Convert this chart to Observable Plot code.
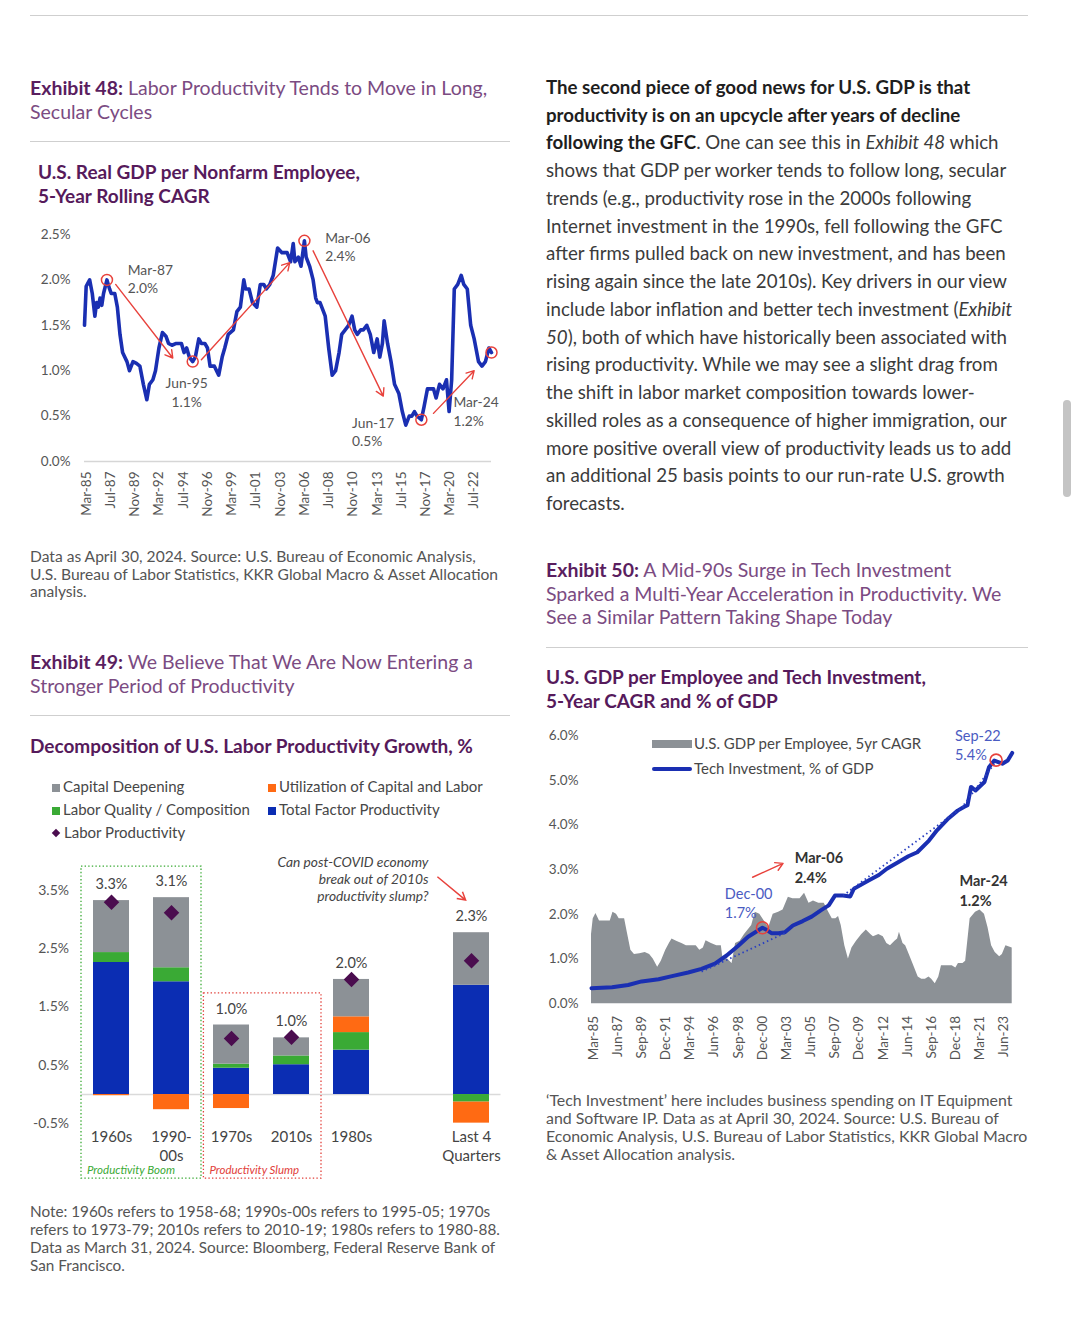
<!DOCTYPE html>
<html><head><meta charset="utf-8">
<script src="https://cdn.jsdelivr.net/npm/d3@7"></script>
<script src="https://cdn.jsdelivr.net/npm/@observablehq/plot@0.6"></script>
<style>
html,body{margin:0;padding:0;background:#fff;}
body{width:1080px;height:1336px;position:relative;overflow:hidden;font-family:Lato,'Open Sans',sans-serif;}
.abs{position:absolute;white-space:nowrap;}
.rule{position:absolute;height:0;border-top:1.5px solid #cfcfcf;}
.extitle{font-size:19.5px;line-height:24px;color:#7b4b82;}
.extitle b{color:#5a1e5f;font-weight:700;}
.ctitle{font-size:19px;line-height:24px;color:#561a5b;font-weight:700;}
.note{font-size:15.5px;line-height:17.5px;color:#555;}
.bodytext{font-size:18.7px;line-height:27.73px;color:#3b3b3b;}
.bodytext b{color:#1e1e1e;font-weight:700;}
.leg{position:absolute;font-size:15px;color:#474747;line-height:20px;white-space:nowrap;}
.sw{display:inline-block;width:8px;height:8px;margin-right:3px;vertical-align:0px;}
.chart{position:absolute;}
.scroll{position:absolute;left:1063px;top:400px;width:8px;height:97px;border-radius:4px;background:#c4c4c4;}
</style></head><body>

<div class="rule" style="left:30px;top:15px;width:998px"></div>

<div class="abs extitle" style="left:30px;top:76px"><b>Exhibit 48:</b> Labor Productivity Tends to Move in Long,<br>Secular Cycles</div>
<div class="rule" style="left:30px;top:141px;width:480px"></div>
<div class="abs ctitle" style="left:38px;top:160px">U.S. Real GDP per Nonfarm Employee,<br>5-Year Rolling CAGR</div>
<div id="c1" class="chart" style="left:30px;top:220px"></div>
<div class="abs note" style="left:30px;top:548px;font-size:15.6px">Data as April 30, 2024. Source: U.S. Bureau of Economic Analysis,<br>U.S. Bureau of Labor Statistics, KKR Global Macro &amp; Asset Allocation<br>analysis.</div>

<div class="abs extitle" style="left:30px;top:650px"><b>Exhibit 49:</b> We Believe That We Are Now Entering a<br>Stronger Period of Productivity</div>
<div class="rule" style="left:30px;top:715px;width:480px"></div>
<div class="abs ctitle" style="left:30px;top:734px">Decomposition of U.S. Labor Productivity Growth, %</div>
<div id="leg2"></div>
<div id="c2" class="chart" style="left:30px;top:845px"></div>
<div class="abs note" style="left:30px;top:1202px;line-height:18px;font-size:15.3px">Note: 1960s refers to 1958-68; 1990s-00s refers to 1995-05; 1970s<br>refers to 1973-79; 2010s refers to 2010-19; 1980s refers to 1980-88.<br>Data as March 31, 2024. Source: Bloomberg, Federal Reserve Bank of<br>San Francisco.</div>

<div class="abs bodytext" style="left:546px;top:74px"><b>The second piece of good news for U.S. GDP is that<br>productivity is on an upcycle after years of decline<br>following the GFC</b>. One can see this in <i>Exhibit 48</i> which<br>shows that GDP per worker tends to follow long, secular<br>trends (e.g., productivity rose in the 2000s following<br>Internet investment in the 1990s, fell following the GFC<br>after firms pulled back on new investment, and has been<br>rising again since the late 2010s). Key drivers in our view<br>include labor inflation and better tech investment (<i>Exhibit<br>50</i>), both of which have historically been associated with<br>rising productivity. While we may see a slight drag from<br>the shift in labor market composition towards lower-<br>skilled roles as a consequence of higher immigration, our<br>more positive overall view of productivity leads us to add<br>an additional 25 basis points to our run-rate U.S. growth<br>forecasts.</div>

<div class="abs extitle" style="left:546px;top:558px;line-height:23.5px"><b>Exhibit 50:</b> A Mid-90s Surge in Tech Investment<br>Sparked a Multi-Year Acceleration in Productivity. We<br>See a Similar Pattern Taking Shape Today</div>
<div class="rule" style="left:546px;top:647px;width:482px"></div>
<div class="abs ctitle" style="left:546px;top:665px">U.S. GDP per Employee and Tech Investment,<br>5-Year CAGR and % of GDP</div>
<div id="c3" class="chart" style="left:545px;top:720px"></div>
<div id="leg3"></div>
<div class="abs note" style="left:546px;top:1091px;line-height:18px;font-size:15.9px">‘Tech Investment’ here includes business spending on IT Equipment<br>and Software IP. Data as at April 30, 2024. Source: U.S. Bureau of<br>Economic Analysis, U.S. Bureau of Labor Statistics, KKR Global Macro<br>&amp; Asset Allocation analysis.</div>

<div class="scroll"></div>

<script>
// ---------------- DATA ----------------
// Exhibit 48: U.S. Real GDP per Nonfarm Employee, 5-Year Rolling CAGR (%)
const ex48Dates = ["1985-01","1985-03","1985-07","1985-10","1986-01","1986-03","1986-05","1986-07","1986-09","1986-11",
"1987-03","1987-06","1987-08","1987-12","1988-03","1988-06","1988-09","1989-02","1989-05","1989-09",
"1990-01","1990-05","1990-09","1991-01","1991-04","1991-08","1991-11","1992-03","1992-07","1992-11",
"1993-02","1993-06","1993-11","1994-05","1994-08","1994-11","1995-02","1995-06","1995-09","1996-01",
"1996-04","1996-08","1996-11","1997-02","1997-07","1997-12","1998-04","1998-07","1998-11","1999-05",
"1999-09","2000-01","2000-05","2000-07","2000-11","2001-03","2001-08","2001-12","2002-04","2002-07",
"2002-11","2003-03","2003-08","2004-01","2004-07","2004-11","2005-02","2005-04","2005-08","2005-11",
"2006-03","2006-05","2006-09","2007-01","2007-04","2007-06","2007-09","2008-01","2008-03","2008-07",
"2008-11","2009-03","2009-07","2009-10","2010-02","2010-06","2010-10","2011-01","2011-04","2011-08",
"2011-11","2012-03","2012-07","2012-11","2013-03","2013-06","2013-09","2013-11","2014-03","2014-07",
"2014-11","2015-04","2015-08","2015-12","2016-04","2016-07","2016-10","2017-01","2017-06","2017-09",
"2018-01","2018-05","2018-08","2018-11","2019-03","2019-07","2019-11","2020-02","2020-05","2020-08",
"2020-12","2021-04","2021-07","2021-11","2022-03","2022-07","2022-12","2023-04","2023-08","2023-12","2024-03"];
const ex48Values = [1.50,1.93,2.00,1.85,1.60,1.75,1.70,1.80,1.72,1.85,
2.00,1.90,1.85,1.85,1.70,1.40,1.20,1.10,1.00,1.10,
1.08,1.05,0.85,0.68,0.85,0.90,1.00,1.25,1.42,1.38,
1.30,1.28,1.30,1.30,1.20,1.25,1.15,1.10,1.15,1.35,
1.30,1.30,1.25,1.05,1.05,0.95,1.15,1.25,1.40,1.45,
1.65,1.70,2.00,1.90,1.90,1.75,1.70,1.95,1.95,1.90,
1.95,2.05,2.35,2.30,2.30,2.20,2.40,2.20,2.25,2.15,
2.43,2.25,2.15,2.00,1.80,1.75,1.75,1.65,1.60,1.25,
0.95,1.00,1.20,1.40,1.45,1.50,1.60,1.45,1.40,1.45,
1.45,1.50,1.40,1.20,1.35,1.15,1.30,1.55,1.30,1.10,
0.85,0.75,0.55,0.40,0.50,0.50,0.55,0.50,0.46,0.60,
0.80,0.80,0.80,0.70,0.85,0.80,0.90,0.55,0.90,1.90,
1.95,2.05,1.95,1.90,1.50,1.35,1.10,1.05,1.10,1.25,1.20];
const ex48XTicks = ["1985-03","1987-07","1989-11","1992-03","1994-07","1996-11","1999-03","2001-07","2003-11",
"2006-03","2008-07","2010-11","2013-03","2015-07","2017-11","2020-03","2022-07"];
const ex48YTicks = [0, 0.5, 1.0, 1.5, 2.0, 2.5];
// highlighted turning points
const ex48PointDates = ["1987-03","1995-06","2006-03","2017-06","2024-03"];
const ex48PointValues = [2.0, 1.1, 2.43, 0.46, 1.2];
const ex48LabelText = ["Mar-87\n2.0%","Jun-95\n1.1%","Mar-06\n2.4%","Jun-17\n0.5%","Mar-24\n1.2%"];
const ex48LabelDates = ["1989-03","1994-11","2008-03","2010-10","2020-07"];
const ex48LabelValues = [2.02, 0.77, 2.375, 0.335, 0.56];
const ex48LabelAnchor = ["start","middle","start","start","start"];
const ex48ArrowFromDates = ["1988-01","1996-04","2007-01","2018-08"];
const ex48ArrowFromValues = [1.95, 1.12, 2.32, 0.53];
const ex48ArrowToDates = ["1993-07","2004-10","2013-10","2022-07"];
const ex48ArrowToValues = [1.14, 2.19, 0.72, 1.0];

// Exhibit 49: Decomposition of U.S. Labor Productivity Growth (%)
const ex49Categories = ["1960s","1990-\n00s","1970s","2010s","1980s","","Last 4\nQuarters"];
const ex49Series = ["Total Factor Productivity","Labor Quality / Composition","Utilization of Capital and Labor","Capital Deepening"];
const ex49TFP =         [2.26, 1.93, 0.45, 0.51, 0.76, null, 1.87];
const ex49LaborQuality = [0.17, 0.24, 0.07, 0.15, 0.30, null, -0.13];
const ex49Utilization = [-0.02,-0.26,-0.24, 0.00, 0.27, null, -0.36];
const ex49CapitalDeep = [0.89, 1.20, 0.67, 0.31, 0.64, null, 0.90];
const ex49LaborProd =   [3.29, 3.11, 0.96, 0.98, 1.97, null, 2.29];
const ex49YTicks = [3.5, 2.5, 1.5, 0.5, -0.5];

// Exhibit 50: GDP per employee 5yr CAGR (area) and tech investment % of GDP (line)
const ex50GdpDates = ["1985-01","1985-03","1985-06","1985-10","1986-03","1986-10","1987-01","1987-05","1987-08","1988-02",
"1988-05","1988-09","1989-01","1989-07","1990-01","1990-06","1990-10","1991-03","1991-07","1991-12",
"1992-04","1992-07","1992-12","1993-06","1993-11","1994-05","1994-10","1995-02","1995-06","1995-09",
"1996-03","1996-09","1997-02","1997-04","1997-09","1998-02","1998-06","1998-11","1999-04","1999-08",
"1999-12","2000-04","2000-09","2001-02","2001-07","2001-12","2002-06","2002-11","2003-05","2003-10",
"2004-06","2004-11","2005-04","2005-09","2006-03","2006-09","2007-02","2007-06","2007-10","2008-01",
"2008-04","2008-08","2008-12","2009-04","2009-09","2010-03","2010-08","2011-01","2011-04","2011-10",
"2012-03","2012-07","2012-11","2013-04","2013-07","2013-09","2014-01","2014-04","2014-08","2015-01",
"2015-06","2015-10","2016-02","2016-06","2016-09","2017-01","2017-05","2017-08","2018-02","2018-08",
"2018-12","2019-03","2019-08","2019-11","2020-04","2020-10","2021-03","2021-08","2021-12","2022-04",
"2022-08","2023-01","2023-04","2023-08","2024-03"];
const ex50GdpValues = [1.55,1.90,2.02,1.85,1.85,1.85,2.05,2.00,1.90,1.90,
1.60,1.20,1.10,1.12,1.15,1.10,1.00,0.82,0.95,1.20,
1.35,1.45,1.40,1.35,1.30,1.30,1.30,1.20,1.25,1.41,
1.35,1.30,1.30,1.00,1.00,0.90,1.35,1.40,1.55,1.65,
1.75,2.05,2.00,1.85,1.70,2.00,2.05,2.10,2.38,2.35,
2.35,2.47,2.25,2.30,2.25,2.25,2.05,1.90,1.90,1.95,
1.75,1.30,1.00,1.25,1.40,1.55,1.65,1.55,1.50,1.55,
1.50,1.35,1.30,1.40,1.45,1.60,1.35,1.30,1.10,0.85,
0.60,0.55,0.55,0.60,0.55,0.45,0.60,0.85,0.85,0.85,
0.80,0.90,0.90,0.95,1.90,2.05,2.10,2.00,1.70,1.30,
1.15,1.05,1.10,1.30,1.25];
const ex50TechDates = ["1985-01","1986-12","1988-06","1989-09","1991-04","1992-07","1994-01","1995-04","1996-07","1997-08",
"1998-09","1999-08","2000-04","2000-12","2001-05","2001-10","2002-06","2003-01","2003-10","2004-09",
"2005-07","2006-06","2007-02","2007-09","2008-06","2009-02","2009-06","2010-10","2011-10","2012-07",
"2013-08","2014-07","2015-05","2016-06","2017-03","2018-04","2019-02","2019-09","2020-01","2020-05",
"2020-10","2021-08","2022-01","2022-07","2023-04","2023-10","2024-03"];
const ex50TechValues = [0.35,0.37,0.42,0.50,0.55,0.62,0.70,0.78,0.90,1.08,
1.30,1.50,1.60,1.70,1.65,1.58,1.58,1.60,1.75,1.85,
1.95,2.10,2.20,2.42,2.42,2.40,2.57,2.75,2.88,3.02,
3.17,3.30,3.39,3.65,3.88,4.15,4.32,4.40,4.44,4.85,
4.77,4.96,5.29,5.44,5.37,5.44,5.61];
const ex50XTicks = ["1985-03","1987-06","1989-09","1991-12","1994-03","1996-06","1998-09","2000-12","2003-03",
"2005-06","2007-09","2009-12","2012-03","2014-06","2016-09","2018-12","2021-03","2023-06"];
const ex50YTicks = [0,1,2,3,4,5,6];
const ex50TrendFromDates = ["1995-04","2008-06","2019-09"];
const ex50TrendFromValues = [0.72, 2.42, 4.45];
const ex50TrendToDates = ["2003-01","2019-09","2022-09"];
const ex50TrendToValues = [1.58, 4.42, 5.42];
const ex50PointDates = ["2000-12","2022-09"];
const ex50PointValues = [1.70, 5.45];
const ex50LabelText = ["Dec-00\n1.7%","Mar-06\n2.4%","Mar-24\n1.2%","Sep-22\n5.4%"];
const ex50LabelDates = ["1997-06","2003-12","2019-04","2018-11"];
const ex50LabelValues = [2.27, 3.07, 2.55, 5.80];
const ex50LabelBold = [false, true, true, false];
const ex50ArrowFromDates = ["2000-01"], ex50ArrowFromValues = [2.83];
const ex50ArrowToDates = ["2002-11"], ex50ArrowToValues = [3.14];

// ---------------- STYLE ----------------
const FONT = "Lato, 'Open Sans', sans-serif";
const BLUE = "#1a2fb2";
const RED = "#e8423c";
const GRAYBAR = "#8c9196";
const ex49Colors = ["#0b2db3", "#3aaa35", "#ff6a13", GRAYBAR];
const PURPLE = "#4b0d4f";
const parseMonth = d3.utcParse("%Y-%m");
const fmtMonth = d3.utcFormat("%b-%y");
const pct1 = d => d.toFixed(1) + "%";
const baseStyle = {fontFamily: FONT, fontSize: "13.5px", color: "#555", background: "transparent", overflow: "visible"};

// ---------------- CHART 1 ----------------
const ex48 = ex48Dates.map((d, i) => ({date: parseMonth(d), value: ex48Values[i]}));
const ex48Points = ex48PointDates.map((d, i) => ({date: parseMonth(d), value: ex48PointValues[i]}));
const ex48Labels = ex48LabelText.map((t, i) => ({text: t, date: parseMonth(ex48LabelDates[i]), value: ex48LabelValues[i], anchor: ex48LabelAnchor[i]}));
const ex48Arrows = ex48ArrowFromDates.map((d, i) => ({x1: parseMonth(d), y1: ex48ArrowFromValues[i], x2: parseMonth(ex48ArrowToDates[i]), y2: ex48ArrowToValues[i]}));

const chart1 = Plot.plot({
  width: 480, height: 310, marginLeft: 54, marginRight: 19, marginTop: 14, marginBottom: 69,
  style: baseStyle,
  x: {type: "utc", domain: [parseMonth("1985-01"), parseMonth("2024-03")], label: null},
  y: {domain: [0, 2.5], label: null},
  marks: [
    Plot.axisY({ticks: ex48YTicks, tickFormat: pct1, tickSize: 0, tickPadding: 14, fontSize: 13.5}),
    Plot.axisX({ticks: ex48XTicks.map(parseMonth), tickFormat: fmtMonth, tickRotate: -90, tickSize: 0, tickPadding: 10, fontSize: 13.5}),
    Plot.ruleY([0], {stroke: "#d6d6d6", strokeWidth: 1.5}),
    Plot.lineY(ex48, {x: "date", y: "value", stroke: BLUE, strokeWidth: 3.6, strokeLinejoin: "round"}),
    Plot.arrow(ex48Arrows, {x1: "x1", y1: "y1", x2: "x2", y2: "y2", stroke: RED, strokeWidth: 1.4, headLength: 9}),
    Plot.dot(ex48Points, {x: "date", y: "value", r: 5.5, stroke: RED, strokeWidth: 1.5, fill: "none"}),
    Plot.text(ex48Labels.filter(d => d.anchor === "start"), {x: "date", y: "value", text: "text", textAnchor: "start", lineHeight: 1.35, fontSize: 13.8, fill: "#555"}),
    Plot.text(ex48Labels.filter(d => d.anchor === "middle"), {x: "date", y: "value", text: "text", textAnchor: "middle", lineHeight: 1.35, fontSize: 13.8, fill: "#555"})
  ]
});
document.getElementById("c1").appendChild(chart1);

// ---------------- CHART 2 ----------------
const ex49Matrix = [ex49TFP, ex49LaborQuality, ex49Utilization, ex49CapitalDeep];
const ex49Rows = [];
ex49Series.forEach((s, si) => ex49Matrix[si].forEach((v, ci) => {
  if (v != null) ex49Rows.push({period: ex49Categories[ci], series: s, value: v});
}));
const ex49Lp = ex49Categories.map((c, ci) => {
  if (ex49LaborProd[ci] == null) return null;
  const posTop = d3.sum(ex49Matrix, arr => Math.max(0, arr[ci]));
  return {period: c, lp: ex49LaborProd[ci], top: Math.max(posTop, ex49LaborProd[ci])};
}).filter(d => d);

function ex49Annotations(index, scales) {
  const sx = scales.x, sy = scales.y;
  const step = sx.step(), bw = sx.bandwidth();
  const g = d3.create("svg:g");
  const boxes = [
    {from: "1960s", to: "1990-\n00s", top: 3.9, bottom: -1.44, color: "#3aaa35", label: "Productivity Boom", padL: 0.2, padR: 0.2},
    {from: "1970s", to: "2010s", top: 1.73, bottom: -1.44, color: "#e2403a", label: "Productivity Slump", padL: 0.16, padR: 0.2}
  ];
  for (const b of boxes) {
    const x0 = sx(b.from) - step * b.padL, x1 = sx(b.to) + bw + step * b.padR;
    const y0 = sy(b.top), y1 = sy(b.bottom);
    g.append("rect").attr("x", x0).attr("y", y0).attr("width", x1 - x0).attr("height", y1 - y0)
      .attr("fill", "none").attr("stroke", b.color).attr("stroke-width", 1.3).attr("stroke-dasharray", "1.4 2.2");
    g.append("text").attr("x", x0 + 6).attr("y", y1 - 4.5).attr("fill", b.color).attr("text-anchor", "start")
      .attr("font-size", 11.5).attr("font-style", "italic").attr("font-family", FONT).text(b.label);
  }
  // arrow pointing at the latest bar
  const ax0 = sx("") + step * 0.74, ay0 = sy(3.72), ax1 = sx("Last 4\nQuarters") + step * 0.21, ay1 = sy(3.32);
  const ang = Math.atan2(ay1 - ay0, ax1 - ax0), hl = 9, ha = Math.PI / 6;
  g.append("path").attr("fill", "none").attr("stroke", RED).attr("stroke-width", 1.5)
    .attr("d", `M${ax0},${ay0}L${ax1},${ay1}M${ax1 - hl * Math.cos(ang - ha)},${ay1 - hl * Math.sin(ang - ha)}L${ax1},${ay1}L${ax1 - hl * Math.cos(ang + ha)},${ay1 - hl * Math.sin(ang + ha)}`);
  return g.node();
}

const chart2 = Plot.plot({
  width: 480, height: 340, marginLeft: 50.5, marginRight: 9.5, marginTop: 21.2, marginBottom: 57.1,
  style: baseStyle,
  x: {type: "band", domain: ex49Categories, paddingInner: 0.4, paddingOuter: 0.2, label: null},
  y: {domain: [-0.58, 3.9], label: null},
  color: {domain: ex49Series, range: ex49Colors},
  marks: [
    Plot.axisY({ticks: ex49YTicks, tickFormat: pct1, tickSize: 0, tickPadding: 12, fontSize: 14, fill: "#555"}),
    Plot.axisX({ticks: ex49Categories.filter(c => c !== ""), tickSize: 0, tickPadding: 0, fontSize: 15, lineHeight: 1.27, fill: "#444"}),
    Plot.ruleY([0], {stroke: "#dadada", strokeWidth: 1.5}),
    Plot.barY(ex49Rows, {x: "period", y: "value", fill: "series", order: ex49Series}),
    Plot.dot(ex49Lp, {x: "period", y: "lp", symbol: "diamond2", r: 7, fill: PURPLE}),
    Plot.text(ex49Lp, {x: "period", y: "top", text: d => pct1(d.lp), dy: -16, fontSize: 14.5, fill: "#444"}),
    Plot.text(["Can post-COVID economy\nbreak out of 2010s\nproductivity slump?"], {x: () => "", y: () => 3.70, text: d => d, textAnchor: "end", dx: 17, lineHeight: 1.22, fontSize: 13.8, fontStyle: "italic", fill: "#444"}),
    ex49Annotations
  ]
});
document.getElementById("c2").appendChild(chart2);

// chart 2 legend (HTML)
const leg2Items = [
  {label: "Capital Deepening", color: GRAYBAR, left: 52, top: 776},
  {label: "Utilization of Capital and Labor", color: "#ff6a13", left: 268, top: 776},
  {label: "Labor Quality / Composition", color: "#3aaa35", left: 52, top: 799},
  {label: "Total Factor Productivity", color: "#0b2db3", left: 268, top: 799}
];
const leg2 = document.getElementById("leg2");
for (const it of leg2Items) {
  const d = document.createElement("div");
  d.className = "leg"; d.style.left = it.left + "px"; d.style.top = it.top + "px";
  d.innerHTML = `<span class="sw" style="background:${it.color}"></span>${it.label}`;
  leg2.appendChild(d);
}
{
  const d = document.createElement("div");
  d.className = "leg"; d.style.left = "51px"; d.style.top = "822px";
  d.innerHTML = `<span style="display:inline-block;width:6px;height:6px;background:${PURPLE};transform:rotate(45deg);margin:0 5px 0 2px;vertical-align:2px"></span>Labor Productivity`;
  leg2.appendChild(d);
}

// ---------------- CHART 3 ----------------
const ex50Gdp = ex50GdpDates.map((d, i) => ({date: parseMonth(d), value: ex50GdpValues[i]}));
const ex50Tech = ex50TechDates.map((d, i) => ({date: parseMonth(d), value: ex50TechValues[i]}));
const ex50Trends = ex50TrendFromDates.map((d, i) => ({x1: parseMonth(d), y1: ex50TrendFromValues[i], x2: parseMonth(ex50TrendToDates[i]), y2: ex50TrendToValues[i]}));
const ex50Points = ex50PointDates.map((d, i) => ({date: parseMonth(d), value: ex50PointValues[i]}));
const ex50Labels = ex50LabelText.map((t, i) => ({text: t, date: parseMonth(ex50LabelDates[i]), value: ex50LabelValues[i], bold: ex50LabelBold[i]}));
const ex50Arrows = ex50ArrowFromDates.map((d, i) => ({x1: parseMonth(d), y1: ex50ArrowFromValues[i], x2: parseMonth(ex50ArrowToDates[i]), y2: ex50ArrowToValues[i]}));

const chart3 = Plot.plot({
  width: 485, height: 350, marginLeft: 46, marginRight: 18.3, marginTop: 15, marginBottom: 66.7,
  style: baseStyle,
  x: {type: "utc", domain: [parseMonth("1985-01"), parseMonth("2024-03")], label: null},
  y: {domain: [0, 6], label: null},
  marks: [
    Plot.axisY({ticks: ex50YTicks, tickFormat: pct1, tickSize: 0, tickPadding: 13, fontSize: 13.5}),
    Plot.axisX({ticks: ex50XTicks.map(parseMonth), tickFormat: fmtMonth, tickRotate: -90, tickSize: 0, tickPadding: 12, fontSize: 13.5}),
    Plot.areaY(ex50Gdp, {x: "date", y: "value", fill: GRAYBAR}),
    Plot.lineY(ex50Tech, {x: "date", y: "value", stroke: BLUE, strokeWidth: 4, strokeLinejoin: "round"}),
    Plot.link(ex50Trends, {x1: "x1", y1: "y1", x2: "x2", y2: "y2", stroke: "#2a40c0", strokeWidth: 1.8, strokeDasharray: "1.5 3"}),
    Plot.dot(ex50Points, {x: "date", y: "value", r: 6, stroke: RED, strokeWidth: 1.6, fill: "none"}),
    Plot.arrow(ex50Arrows, {x1: "x1", y1: "y1", x2: "x2", y2: "y2", stroke: RED, strokeWidth: 1.4, headLength: 9}),
    Plot.text(ex50Labels.filter(d => !d.bold), {x: "date", y: "value", text: "text", textAnchor: "start", lineHeight: 1.35, fontSize: 14.5, fill: "#4a5bc2"}),
    Plot.text(ex50Labels.filter(d => d.bold), {x: "date", y: "value", text: "text", textAnchor: "start", lineHeight: 1.35, fontSize: 14.5, fontWeight: "bold", fill: "#333"})
  ]
});
document.getElementById("c3").appendChild(chart3);

// chart 3 legend (HTML)
const leg3 = document.getElementById("leg3");
leg3.innerHTML = `
<div style="position:absolute;left:652px;top:740px;width:40px;height:7.5px;background:${GRAYBAR}"></div>
<div class="leg" style="left:694px;top:733px;font-size:15px">U.S. GDP per Employee, 5yr CAGR</div>
<div style="position:absolute;left:652px;top:766.5px;width:40px;height:4px;background:${BLUE};border-radius:2px"></div>
<div class="leg" style="left:694px;top:758px;font-size:15px">Tech Investment, % of GDP</div>`;
</script>
</body></html>
